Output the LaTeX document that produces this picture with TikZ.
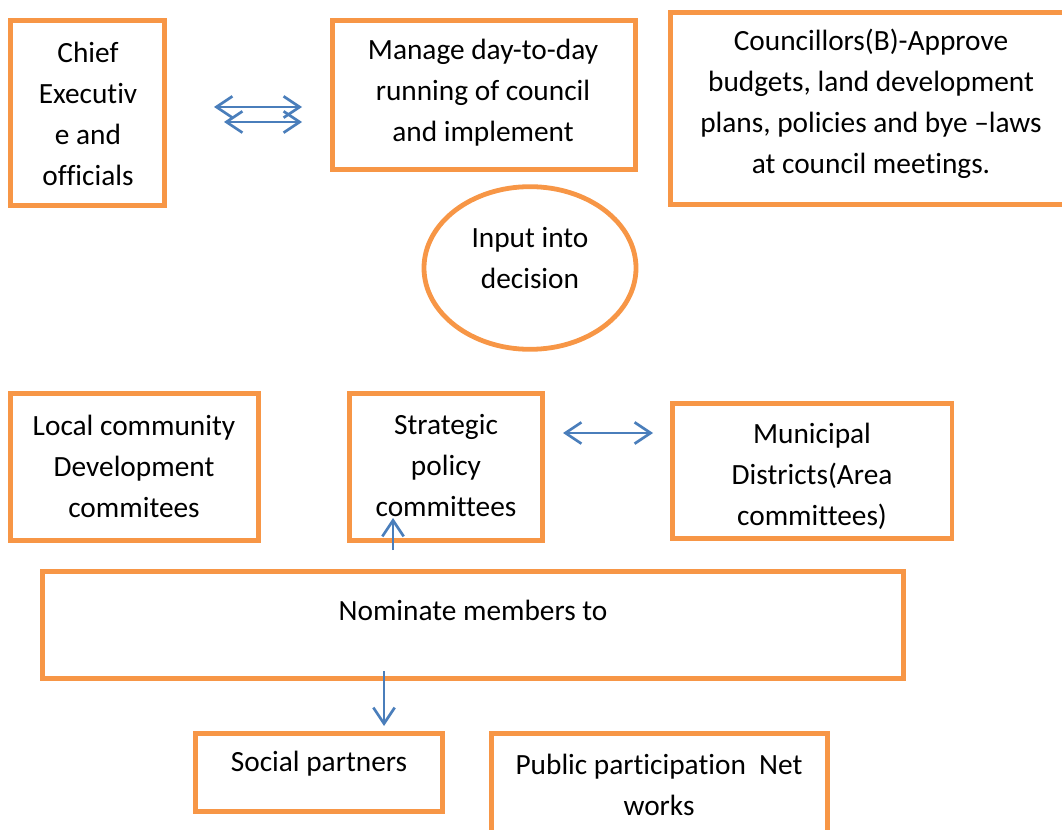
\documentclass[tikz,border=0pt]{standalone}
\usepackage{fontspec}
\setmainfont{Carlito}[Ligatures=NoCommon]
\usetikzlibrary{arrows.meta,shapes.geometric,fit}
\definecolor{boxorange}{HTML}{F79646}
\definecolor{arrowblue}{HTML}{4A7EBB}
\tikzset{
  box/.style={draw=boxorange, line width=3.6pt, inner sep=0pt},
  txt/.style={align=center, font=\fontsize{22}{30.75}\selectfont, inner sep=0pt},
  barb/.tip={Straight Barb[length=12pt,width=16pt,line width=2pt]},
  link/.style={draw=arrowblue, line width=2pt, barb-barb},
  onelink/.style={draw=arrowblue, line width=2pt, -barb}
}
\begin{document}
\begin{tikzpicture}[x=0.75pt,y=-0.75pt]
\useasboundingbox (0,0) rectangle (1062,830);
\clip (0,0) rectangle (1062,830);
% boxes
\node[box, fit={(10.5,20.5) (164.5,205.5)}] (chief) {};
\node[box, fit={(332.5,20.5) (635.5,169.5)}] (manage) {};
\node[box, fit={(670.5,12.5) (1080,204.5)}] (council) {};
\node[box, fit={(10.5,393.5) (258.5,540.5)}] (local) {};
\node[box, fit={(349.5,393.5) (542.5,540.5)}] (strat) {};
\node[box, fit={(672.5,403.5) (952,538.5)}] (muni) {};
\node[box, fit={(42.5,571.5) (903.5,678.5)}] (nominate) {};
\node[box, fit={(195.5,733.5) (442.5,811.5)}] (social) {};
\node[box, fit={(491.5,733.5) (827.5,850)}] (public) {};
\node[draw=boxorange, line width=3.6pt, ellipse, inner sep=0pt, minimum width=159pt, minimum height=122pt] (input) at (530,268) {};
% texts
\node[txt] (inputT) at (530,258) {Input into\\decision};
\node[txt] (chiefT) at (88,113.5) {Chief\\Executiv\\e and\\officials};
\node[txt] (manageT) at (483,93) {Manage day-to-day\\running of council\\and implement};
\node[txt] (councilT) at (871,103.5) {Councillors(B)-Approve\\budgets, land development\\plans, policies and bye –laws\\at council meetings.};
\node[txt] (localT) at (134,466) {Local community\\Development\\commitees};
\node[txt] (stratT) at (446,466) {Strategic\\policy\\committees};
\node[txt] (muniT) at (812,476) {Municipal\\Districts(Area\\committees)};
\node[txt] (nominateT) at (473,610) {Nominate members to};
\node[txt] (socialT) at (319,764) {Social partners};
\node[txt] (publicT) at (659,784.5) {Public participation\ \ Net\\works};
% arrow endpoints
\coordinate (a1) at (214,107); \coordinate (a2) at (302,107);
\coordinate (b1) at (224,122); \coordinate (b2) at (302,122);
\coordinate (c1) at (563,433); \coordinate (c2) at (653,433);
\coordinate (u1) at (393,550); \coordinate (u2) at (393,518);
\coordinate (d1) at (384,671); \coordinate (d2) at (384,726);
\draw[link] (a1) -- (a2);
\draw[link] (b1) -- (b2);
\draw[link] (c1) -- (c2);
\draw[onelink] (u1) -- (u2);
\draw[onelink, line width=1.6pt] (d1) -- (d2);
\end{tikzpicture}
\end{document}
